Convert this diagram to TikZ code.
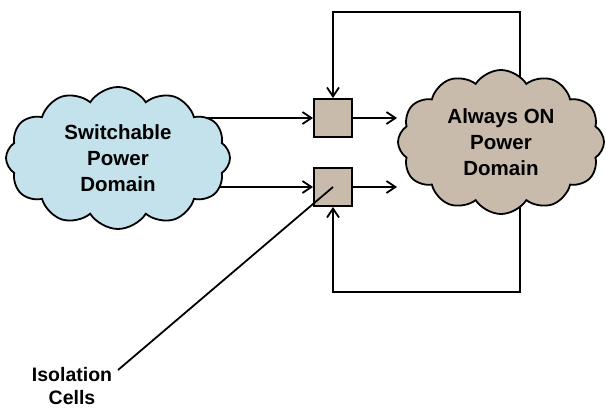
\documentclass[tikz,border=0pt]{standalone}
\usepackage{fontspec}
\setmainfont{Liberation Sans}
\usetikzlibrary{
    arrows.meta,
    shapes.symbols,
    backgrounds,
    positioning
}
\definecolor{swblue}{RGB}{196,226,236}
\definecolor{aontan}{RGB}{201,187,172}
\tikzset{
    pwrdomain/.style={draw, line width=1.8pt, cloud, cloud puffs=12, cloud puff arc=115,
        inner sep=-6pt, align=center, font=\bfseries\fontsize{20.5}{26}\selectfont},
    isocell/.style={draw, line width=1.8pt, fill=aontan, minimum size=38pt, inner sep=0pt},
    wire/.style={line width=1.8pt, -{Straight Barb[length=9pt,width=12pt,line width=1.8pt]}}
}

\begin{document}
\begin{tikzpicture}[x=1pt, y=-1pt]
                        \useasboundingbox (0,0) rectangle (606,408);
                        \node[pwrdomain, fill=swblue, aspect=1.55, minimum width=224pt, minimum height=142pt] (sw) at (118,158) {Switchable\\Power\\Domain};
                        \node[pwrdomain, fill=aontan, aspect=1.4, minimum width=206pt, minimum height=144pt] (aon) at (501,142) {Always ON\\Power\\Domain};
                        \node[isocell] (b1) at (333,118) {};
                        \node[isocell] (b2) at (333,187) {};
                        \node[align=center, font=\bfseries\fontsize{19.5}{23}\selectfont] (iso) at (72,386) {Isolation\\Cells};
                        \coordinate (isotip) at (118,370);
                        \coordinate (ttop) at (520,12);
                        \coordinate (tbot) at (520,292);

                        \begin{pgfonlayer}{background}
                        \draw[wire] (sw.center |- b1) -- (b1.west);
                        \draw[wire] (sw.center |- b2) -- (b2.west);
                        \draw[wire] (aon.center -| ttop) -- (ttop) -- (ttop -| b1) -- (b1.north);
                        \draw[wire] (aon.center -| tbot) -- (tbot) -- (tbot -| b2) -- (b2.south);
                        \end{pgfonlayer}

                        \draw
                        (b1) edge[wire] (b1 -| aon.west)
                        (b2) edge[wire] (b2 -| aon.west);
                        \draw[line width=1.8pt] (isotip) -- (b2.center);
                    \end{tikzpicture}
\end{document}
